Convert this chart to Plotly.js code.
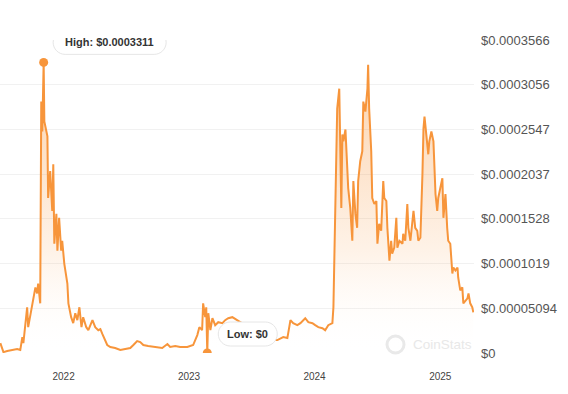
<!DOCTYPE html>
<html>
<head>
<meta charset="utf-8">
<script src="https://cdn.plot.ly/plotly-3.0.1.min.js"></script>
<style>
  html, body { margin: 0; padding: 0; background: #ffffff; }
  #chart { width: 568px; height: 394px; }
</style>
</head>
<body>
<div id="chart"></div>
<script>
// ---- data ----
const dates = [
  "2021-07-01","2021-07-10","2021-07-21","2021-08-05","2021-08-19","2021-08-28","2021-09-03","2021-09-06",
  "2021-09-17","2021-09-20","2021-10-02","2021-10-05","2021-10-11","2021-10-16","2021-10-19","2021-10-25",
  "2021-10-28","2021-10-31","2021-11-04","2021-11-06","2021-11-10","2021-11-15","2021-11-17","2021-11-23",
  "2021-11-29","2021-12-02","2021-12-05","2021-12-11","2021-12-14","2021-12-19","2021-12-25","2021-12-28",
  "2022-01-03","2022-01-12","2022-01-15","2022-01-23","2022-01-29","2022-02-04","2022-02-10","2022-02-16",
  "2022-02-22","2022-02-27","2022-03-08","2022-03-14","2022-03-26","2022-04-03","2022-04-12","2022-04-18",
  "2022-04-24","2022-05-02","2022-05-08","2022-05-17","2022-05-31","2022-06-15","2022-06-30","2022-07-14",
  "2022-07-23","2022-08-03","2022-08-12","2022-08-21","2022-09-04","2022-09-25","2022-10-15","2022-10-30",
  "2022-11-07","2022-11-22","2022-12-06","2022-12-27","2023-01-13","2023-01-25","2023-01-31","2023-02-08",
  "2023-02-11","2023-02-17","2023-02-20","2023-02-23","2023-02-26","2023-03-04","2023-03-10","2023-03-18",
  "2023-03-27","2023-04-08","2023-04-16","2023-04-25","2023-05-07","2023-05-30","2023-06-28","2023-07-27",
  "2023-08-25","2023-09-03","2023-09-15","2023-10-02","2023-10-14","2023-10-23","2023-10-31","2023-11-12",
  "2023-11-21","2023-12-05","2023-12-14","2023-12-26","2024-01-03","2024-01-12","2024-01-24","2024-02-01",
  "2024-02-10","2024-02-22","2024-02-25","2024-03-01","2024-03-07","2024-03-13","2024-03-16","2024-03-19",
  "2024-03-22","2024-03-25","2024-03-31","2024-04-05","2024-04-08","2024-04-14","2024-04-20","2024-04-23",
  "2024-04-29","2024-05-04","2024-05-07","2024-05-13","2024-05-19","2024-05-22","2024-05-28","2024-06-03",
  "2024-06-05","2024-06-08","2024-06-14","2024-06-17","2024-06-23","2024-06-29","2024-07-02","2024-07-07",
  "2024-07-13","2024-07-19","2024-07-22","2024-07-28","2024-07-31","2024-08-06","2024-08-11","2024-08-14",
  "2024-08-20","2024-08-26","2024-08-29","2024-09-04","2024-09-13","2024-09-15","2024-09-21","2024-09-27",
  "2024-09-30","2024-10-06","2024-10-12","2024-10-15","2024-10-20","2024-10-26","2024-10-29","2024-11-04",
  "2024-11-10","2024-11-13","2024-11-16","2024-11-21","2024-11-27","2024-11-30","2024-12-06","2024-12-12",
  "2024-12-15","2024-12-18","2024-12-23","2024-12-26","2025-01-01","2025-01-07","2025-01-10","2025-01-16",
  "2025-01-21","2025-01-24","2025-01-30","2025-02-05","2025-02-08","2025-02-14","2025-02-20","2025-02-22",
  "2025-02-28","2025-03-06","2025-03-09","2025-03-15","2025-03-21","2025-03-24","2025-03-29","2025-04-04",
  "2025-04-07"
];
const prices = [
  0.0000113,0.0000010,0.0000023,0.0000034,0.0000045,0.0000034,0.0000181,0.0000113,
  0.0000521,0.0000294,0.0000566,0.0000634,0.0000747,0.0000679,0.0000792,0.0000566,
  0.0002864,0.0002524,0.0003311,0.0002638,0.0002558,0.0002468,0.0001766,0.0002072,
  0.0001619,0.0002151,0.0001245,0.0001585,0.0001166,0.0001540,0.0001166,0.0001279,
  0.0001019,0.0000792,0.0000566,0.0000408,0.0000340,0.0000453,0.0000374,0.0000521,
  0.0000294,0.0000408,0.0000294,0.0000260,0.0000374,0.0000294,0.0000260,0.0000272,
  0.0000215,0.0000136,0.0000091,0.0000068,0.0000057,0.0000034,0.0000045,0.0000057,
  0.0000091,0.0000136,0.0000125,0.0000091,0.0000079,0.0000068,0.0000057,0.0000102,
  0.0000068,0.0000079,0.0000068,0.0000068,0.0000091,0.0000204,0.0000294,0.0000260,
  0.0000566,0.0000408,0.0000521,0,0.0000453,0.0000260,0.0000396,0.0000317,
  0.0000351,0.0000340,0.0000374,0.0000396,0.0000408,0.0000351,0.0000283,0.0000226,
  0.0000170,0.0000147,0.0000147,0.0000181,0.0000170,0.0000374,0.0000340,0.0000317,
  0.0000340,0.0000396,0.0000351,0.0000340,0.0000317,0.0000294,0.0000283,0.0000260,
  0.0000317,0.0000340,0.0000521,0.0001585,0.0002785,0.0003011,0.0002490,0.0001653,
  0.0002490,0.0002411,0.0002547,0.0002106,0.0001879,0.0001653,0.0001279,0.0001958,
  0.0001585,0.0001426,0.0001958,0.0002185,0.0002298,0.0002864,0.0002751,0.0003011,
  0.0003283,0.0002785,0.0002298,0.0001766,0.0001698,0.0001732,0.0001245,0.0001472,
  0.0001392,0.0001958,0.0001766,0.0001732,0.0001426,0.0001053,0.0001279,0.0001132,
  0.0001200,0.0001540,0.0001200,0.0001279,0.0001245,0.0001358,0.0001279,0.0001698,
  0.0001426,0.0001279,0.0001472,0.0001619,0.0001426,0.0001392,0.0001279,0.0001313,
  0.0002038,0.0002558,0.0002694,0.0002490,0.0002264,0.0002411,0.0002524,0.0002411,
  0.0002185,0.0001811,0.0001619,0.0001766,0.0001879,0.0001992,0.0001540,0.0001811,
  0.0001426,0.0001279,0.0001245,0.0000906,0.0000974,0.0000940,0.0000974,0.0000860,
  0.0000713,0.0000747,0.0000566,0.0000600,0.0000623,0.0000679,0.0000566,0.0000521,
  0.0000464
];
const yTickVals = [0, 0.00005094, 0.0001019, 0.0001528, 0.0002037, 0.0002547, 0.0003056, 0.0003566];
const yTickText = ["$0", "$0.00005094", "$0.0001019", "$0.0001528", "$0.0002037", "$0.0002547", "$0.0003056", "$0.0003566"];
const xTickVals = ["2022-01-01", "2023-01-01", "2024-01-01", "2025-01-01"];
const xTickText = ["2022", "2023", "2024", "2025"];
const xRange = ["2021-06-30", "2025-04-09"];
const highDate = "2021-11-04", highValue = 0.0003311;
const lowDate = "2023-02-23", lowValue = 0;
const highLabel = "High: $0.0003311";
const lowLabel = "Low: $0";

// ---- styling ----
const ORANGE = "#f7953b";
const FONT = "Liberation Sans, Arial, sans-serif";

function pill(cx, cy, w, h) {
  const r = h / 2, k = 0.5523 * r;
  const xl = cx - w / 2 + r, xr = cx + w / 2 - r;
  const yt = cy + r, yb = cy - r;
  return `M${xl},${yt} L${xr},${yt} ` +
    `C${xr + k},${yt} ${xr + r},${cy + k} ${xr + r},${cy} ` +
    `C${xr + r},${cy - k} ${xr + k},${yb} ${xr},${yb} ` +
    `L${xl},${yb} ` +
    `C${xl - k},${yb} ${xl - r},${cy - k} ${xl - r},${cy} ` +
    `C${xl - r},${cy + k} ${xl - k},${yt} ${xl},${yt} Z`;
}

const traces = [
  {
    type: "scatter", mode: "lines",
    x: dates, y: prices,
    line: { color: ORANGE, width: 2 },
    fill: "tozeroy",
    fillgradient: {
      type: "vertical",
      colorscale: [
        [0, "rgba(255,255,255,0)"],
        [0.35, "rgba(247,149,59,0.12)"],
        [0.7, "rgba(247,149,59,0.28)"],
        [1, "rgba(247,149,59,0.42)"]
      ]
    },
    hoverinfo: "skip"
  },
  {
    type: "scatter", mode: "markers",
    x: [highDate, lowDate], y: [highValue, lowValue],
    marker: { color: ORANGE, size: 9 },
    hoverinfo: "skip"
  }
];

const layout = {
  width: 568, height: 394,
  margin: { l: 0, r: 94, t: 40, b: 41 },
  paper_bgcolor: "#ffffff", plot_bgcolor: "#ffffff",
  showlegend: false,
  font: { family: FONT, color: "#444" },
  xaxis: {
    type: "date", range: xRange,
    tickvals: xTickVals, ticktext: xTickText,
    showgrid: false, zeroline: false, showline: false, ticks: "",
    tickfont: { size: 10, color: "#444", family: FONT },
    ticklabelstandoff: 16
  },
  yaxis: {
    side: "right", range: [0, 0.0003566],
    tickvals: yTickVals, ticktext: yTickText,
    showgrid: true, gridcolor: "#f1f1f1", gridwidth: 1,
    zeroline: false, showline: false, ticks: "",
    tickfont: { size: 13, color: "#555", family: FONT },
    ticklabelstandoff: 6
  },
  shapes: [
    {
      type: "path", xref: "x", yref: "y",
      xsizemode: "pixel", ysizemode: "pixel",
      xanchor: highDate, yanchor: highValue,
      path: pill(66, 20, 113, 24),
      fillcolor: "#ffffff", line: { color: "#e6e6e6", width: 1 }, layer: "above"
    },
    {
      type: "path", xref: "x", yref: "y",
      xsizemode: "pixel", ysizemode: "pixel",
      xanchor: lowDate, yanchor: lowValue,
      path: pill(40.5, 19, 59, 24),
      fillcolor: "#ffffff", line: { color: "#e6e6e6", width: 1 }, layer: "above"
    },
    {
      type: "circle", xref: "paper", yref: "paper",
      xsizemode: "pixel", ysizemode: "pixel",
      xanchor: 1, yanchor: 0,
      x0: -87, x1: -70, y0: 0, y1: 17,
      fillcolor: "rgba(0,0,0,0)", line: { color: "#e9e9e9", width: 3 }, layer: "above"
    }
  ],
  annotations: [
    {
      x: highDate, y: highValue, xref: "x", yref: "y",
      text: "<b>" + highLabel + "</b>",
      showarrow: true, arrowcolor: "rgba(0,0,0,0)", arrowwidth: 0.1,
      ax: 66, ay: -20,
      font: { size: 11, color: "#333", family: FONT }
    },
    {
      x: lowDate, y: lowValue, xref: "x", yref: "y",
      text: "<b>" + lowLabel + "</b>",
      showarrow: true, arrowcolor: "rgba(0,0,0,0)", arrowwidth: 0.1,
      ax: 40.5, ay: -19,
      font: { size: 11, color: "#333", family: FONT }
    },
    {
      xref: "paper", yref: "paper", x: 1, y: 0.027,
      xanchor: "right", yanchor: "middle", xshift: 0,
      text: "CoinStats", showarrow: false,
      font: { size: 13.5, color: "#e8e8e8", family: FONT }
    }
  ]
};

Plotly.newPlot("chart", traces, layout, { displayModeBar: false, staticPlot: true });
</script>
</body>
</html>
